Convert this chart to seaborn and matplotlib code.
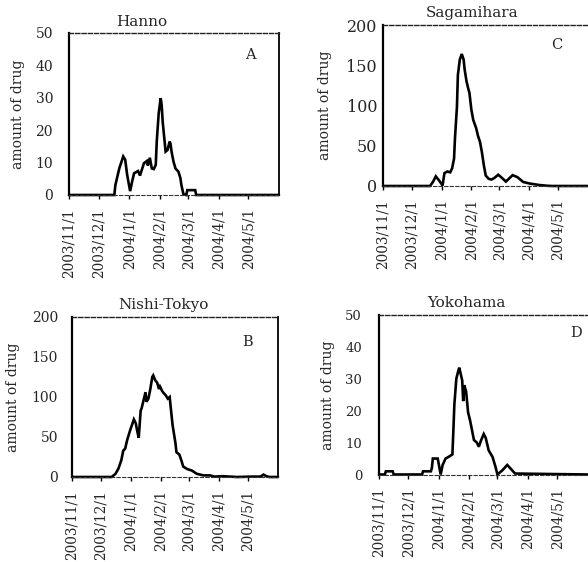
import matplotlib
matplotlib.use("Agg")
import matplotlib.pyplot as plt
import seaborn as sns
import pandas as pd

# ---------------- data ----------------
XTICK_DATES = ["2003-11-01", "2003-12-01", "2004-01-01", "2004-02-01",
               "2004-03-01", "2004-04-01", "2004-05-01"]
XTICK_LABELS = ["2003/11/1", "2003/12/1", "2004/1/1", "2004/2/1",
                "2004/3/1", "2004/4/1", "2004/5/1"]
X_START = "2003-11-01"
X_END = "2004-06-01"

HANNO_DATES = ["2003-11-01", "2003-12-17", "2003-12-18", "2003-12-22", "2003-12-26",
               "2003-12-28", "2003-12-30", "2004-01-02", "2004-01-04", "2004-01-06",
               "2004-01-10", "2004-01-12", "2004-01-16", "2004-01-19", "2004-01-20",
               "2004-01-22", "2004-01-24", "2004-01-26", "2004-01-28", "2004-01-29",
               "2004-01-31", "2004-02-02", "2004-02-03", "2004-02-04", "2004-02-06",
               "2004-02-07", "2004-02-09", "2004-02-11", "2004-02-12", "2004-02-13",
               "2004-02-15", "2004-02-17", "2004-02-20", "2004-02-22", "2004-02-23",
               "2004-02-25", "2004-02-28", "2004-02-29", "2004-03-08", "2004-03-09",
               "2004-06-01"]
HANNO_VALUES = [0, 0, 3.0, 8.2, 11.9,
                10.9, 6.2, 1.2, 4.1, 6.7,
                7.4, 6.0, 9.8, 10.5, 9.1,
                11.5, 8.2, 8.0, 9.3, 16.5,
                25.3, 29.9, 27.8, 22.7, 16.5,
                13.4, 13.9, 16.5, 15.8, 13.4,
                10.3, 8.2, 7.2, 5.2, 3.1,
                0.3, 0, 1.5, 1.5, 0,
                0]

SAGAMI_DATES = ["2003-11-01", "2003-12-20", "2003-12-23", "2003-12-26", "2003-12-29",
                "2004-01-01", "2004-01-02", "2004-01-04", "2004-01-07", "2004-01-10",
                "2004-01-12", "2004-01-14", "2004-01-15", "2004-01-17", "2004-01-18",
                "2004-01-20", "2004-01-22", "2004-01-24", "2004-01-25", "2004-01-27",
                "2004-01-29", "2004-01-30", "2004-02-01", "2004-02-03", "2004-02-06",
                "2004-02-08", "2004-02-10", "2004-02-12", "2004-02-14", "2004-02-16",
                "2004-02-19", "2004-02-22", "2004-02-25", "2004-02-29", "2004-03-04",
                "2004-03-08", "2004-03-15", "2004-03-20", "2004-03-26", "2004-04-02",
                "2004-04-12", "2004-04-20", "2004-04-25", "2004-06-01"]
SAGAMI_VALUES = [0, 0, 5, 12, 7.5,
                 2.5, 0.5, 16, 18, 17,
                 22, 34, 60, 98, 138,
                 157, 164, 157, 145, 130,
                 120, 116, 95, 82, 72,
                 62, 55, 42, 26, 13,
                 9, 8, 10, 14, 10,
                 5.5, 13.5, 11, 5, 3,
                 1.2, 0.3, 0, 0]

NISHI_DATES = ["2003-11-01", "2003-12-12", "2003-12-16", "2003-12-19", "2003-12-22",
               "2003-12-24", "2003-12-26", "2003-12-28", "2003-12-31", "2004-01-02",
               "2004-01-04", "2004-01-06", "2004-01-07", "2004-01-09", "2004-01-11",
               "2004-01-12", "2004-01-14", "2004-01-16", "2004-01-17", "2004-01-19",
               "2004-01-21", "2004-01-23", "2004-01-24", "2004-01-26", "2004-01-28",
               "2004-01-30", "2004-01-31", "2004-02-02", "2004-02-03", "2004-02-06",
               "2004-02-08", "2004-02-10", "2004-02-11", "2004-02-13", "2004-02-16",
               "2004-02-17", "2004-02-20", "2004-02-22", "2004-02-24", "2004-02-28",
               "2004-03-04", "2004-03-09", "2004-03-16", "2004-03-23", "2004-03-27",
               "2004-04-05", "2004-04-12", "2004-04-20", "2004-05-05", "2004-05-14",
               "2004-05-17", "2004-05-20", "2004-05-23", "2004-06-01"]
NISHI_VALUES = [0, 0, 4, 10.5, 21,
                33, 35.5, 46, 58, 65,
                72, 67, 60, 49, 83,
                86, 96, 106, 94, 98,
                110, 125, 127, 121, 118,
                110, 113, 108, 106, 102,
                98, 100, 88, 65, 42,
                31, 28, 21, 13, 10,
                8, 4, 2, 2, 0.5,
                1, 0.5, 0, 0.5, 0.5,
                3, 1, 0, 0]

YOKO_DATES = ["2003-11-01", "2003-11-07", "2003-11-08", "2003-11-15", "2003-11-16",
              "2003-12-15", "2003-12-16", "2003-12-24", "2003-12-25", "2003-12-26",
              "2003-12-31", "2004-01-03", "2004-01-05", "2004-01-08", "2004-01-12",
              "2004-01-15", "2004-01-16", "2004-01-17", "2004-01-19", "2004-01-21",
              "2004-01-22", "2004-01-25", "2004-01-26", "2004-01-27", "2004-01-29",
              "2004-01-31", "2004-02-02", "2004-02-06", "2004-02-09", "2004-02-11",
              "2004-02-13", "2004-02-16", "2004-02-18", "2004-02-21", "2004-02-25",
              "2004-02-28", "2004-03-01", "2004-03-06", "2004-03-11", "2004-03-14",
              "2004-03-19", "2004-06-01"]
YOKO_VALUES = [0, 0, 1, 1, 0,
               0, 1, 1, 2, 5,
               5, 0, 3, 5, 5.7,
               6.3, 14, 22, 30, 32.5,
               33.5, 29.5, 23, 28, 26,
               19.5, 17, 10.8, 10, 8.7,
               10.5, 12.7, 11.5, 7.6, 5.5,
               2.4, 0, 1.3, 3, 2,
               0.3, 0]

TITLES = ["Hanno", "Sagamihara", "Nishi-Tokyo", "Yokohama"]
LETTERS = ["A", "C", "B", "D"]
YMAX = [50, 200, 200, 50]
YSTEP = [10, 50, 50, 10]
YLABEL = "amount of drug"

# ---------------- figure ----------------
sns.set_style("ticks")
plt.rcParams['font.family'] = ['DejaVu Serif']

W, H = 588, 562
fig = plt.figure(figsize=(W / 100, H / 100), dpi=100)


def rect(l, r, t, b):
    return [l / W, 1 - b / H, (r - l) / W, (b - t) / H]


axes_rects = [rect(69, 279, 33, 195), rect(383, 587.5, 25, 186),
              rect(72, 278, 317, 477), rect(379, 587.5, 315, 474.5)]
series = [(HANNO_DATES, HANNO_VALUES), (SAGAMI_DATES, SAGAMI_VALUES),
          (NISHI_DATES, NISHI_VALUES), (YOKO_DATES, YOKO_VALUES)]
title_pos = [(0.348, 1.068), (0.437, 1.075), (0.442, 1.075), (0.421, 1.075)]
letter_pos = [(0.862, 0.864), (0.85, 0.876), (0.854, 0.846), (0.947, 0.887)]
ylabel_x = [-0.21, -0.248, -0.252, -0.21]
ytick_pad = [11.5, 4.3, 10.0, 12.2]
ytick_size = [10, 11.5, 10, 9.5]
right_solid = [True, False, True, False]

for i in range(4):
    ax = fig.add_axes(axes_rects[i])
    dates, vals = series[i]
    df = pd.DataFrame({"date": pd.to_datetime(dates), "amount": vals})
    sns.lineplot(data=df, x="date", y="amount", ax=ax, color="black",
                 linewidth=1.9, estimator=None, sort=False)
    for ln in ax.lines:
        ln.set_clip_on(False)
        ln.set_solid_joinstyle("miter")

    ax.set_xlim(pd.Timestamp(X_START), pd.Timestamp(X_END))
    ax.set_ylim(0, YMAX[i])
    ax.set_xticks(pd.to_datetime(XTICK_DATES))
    ax.set_xticklabels(XTICK_LABELS, rotation=90, ha="center", va="top", fontsize=9.8)
    ax.set_yticks(range(0, YMAX[i] + 1, YSTEP[i]))
    ax.set_yticklabels([str(v) for v in range(0, YMAX[i] + 1, YSTEP[i])],
                       fontsize=ytick_size[i])
    ax.tick_params(axis="x", direction="out", length=3, width=1, pad=6.5, color="black")
    ax.tick_params(axis="y", length=0, pad=ytick_pad[i])
    ax.set_xlabel("")
    ax.set_ylabel(YLABEL, fontsize=10)
    ax.yaxis.set_label_coords(ylabel_x[i], 0.5)

    ax.spines["left"].set_linewidth(1.6)
    ax.spines["left"].set_color("black")
    ax.spines["bottom"].set_linewidth(0.8)
    ax.spines["bottom"].set_linestyle((0, (3, 2)))
    ax.spines["bottom"].set_color("#333333")
    ax.spines["top"].set_visible(True)
    ax.spines["top"].set_linewidth(1.0)
    ax.spines["top"].set_linestyle((0, (3, 1.5)))
    ax.spines["top"].set_color("#222222")
    ax.spines["right"].set_visible(True)
    if right_solid[i]:
        ax.spines["right"].set_linewidth(1.3)
        ax.spines["right"].set_color("black")
    else:
        ax.spines["right"].set_linewidth(0.6)
        ax.spines["right"].set_linestyle((0, (3, 2)))
        ax.spines["right"].set_color("#888888")

    ax.text(title_pos[i][0], title_pos[i][1], TITLES[i], transform=ax.transAxes,
            ha="center", va="center", fontsize=11)
    ax.text(letter_pos[i][0], letter_pos[i][1], LETTERS[i], transform=ax.transAxes,
            ha="center", va="center", fontsize=10.5)

fig.savefig("out.png", dpi=100, facecolor="white")
